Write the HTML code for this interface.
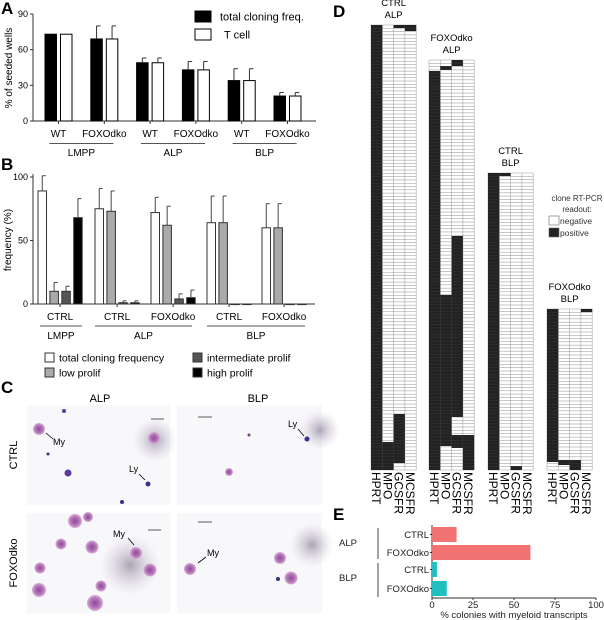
<!DOCTYPE html>
<html><head><meta charset="utf-8"><style>
body{margin:0;background:#fff}
svg{display:block;font-family:"Liberation Sans",Arial,sans-serif}
</style></head><body>
<svg id="fig" width="604" height="620" viewBox="0 0 604 620" xmlns="http://www.w3.org/2000/svg">
<defs>
<radialGradient id="smudge"><stop offset="0" stop-color="#8a7f95" stop-opacity="0.7"/><stop offset="1" stop-color="#c9c3d3" stop-opacity="0"/></radialGradient>
<radialGradient id="cellg"><stop offset="0" stop-color="#8e4a9a"/><stop offset="0.6" stop-color="#b274b6"/><stop offset="1" stop-color="#d9aed8"/></radialGradient>
</defs>
<g font-weight="bold" font-size="17" fill="#000">
<text x="1" y="14">A</text>
<text x="1" y="170">B</text>
<text x="1" y="393">C</text>
<text x="333" y="17">D</text>
<text x="333" y="520">E</text>
</g>
<g id="pa"></g>
<g id="pb"></g>
<g id="pc">
<text x="100" y="402" font-size="11" text-anchor="middle">ALP</text>
<text x="258" y="402" font-size="11" text-anchor="middle">BLP</text>
<text transform="translate(17,455) rotate(-90)" font-size="11" text-anchor="middle">CTRL</text>
<text transform="translate(17,563) rotate(-90)" font-size="11" text-anchor="middle">FOXOdko</text>
<g>
<rect x="27" y="405" width="143" height="100" fill="#f8f7fa"/>
<circle cx="155" cy="440" r="22" fill="url(#smudge)"/>
<circle cx="39" cy="429" r="6" fill="url(#cellg)"/><circle cx="154" cy="438" r="6" fill="url(#cellg)"/>
<circle cx="68" cy="473" r="3.5" fill="#5a3d9a"/><circle cx="148" cy="484" r="2.5" fill="#3a2f8a"/><circle cx="122" cy="502" r="2" fill="#3a2f8a"/><circle cx="48" cy="454" r="1.5" fill="#3a2f8a"/><circle cx="64" cy="411" r="2" fill="#5a3d9a"/>
<line x1="151" y1="419" x2="164" y2="419" stroke="#333" stroke-width="0.8"/>
<text x="53" y="445" font-size="9">My</text>
<line x1="53" y1="439" x2="46" y2="433" stroke="#000" stroke-width="0.8"/>
<text x="129" y="472" font-size="9">Ly</text>
<line x1="139" y1="474" x2="145" y2="480" stroke="#000" stroke-width="0.8"/>
</g>
<g>
<rect x="177" y="405" width="145" height="100" fill="#f8f7fa"/>
<circle cx="320" cy="430" r="20" fill="url(#smudge)"/>
<circle cx="229" cy="472" r="4" fill="url(#cellg)"/><circle cx="307" cy="439" r="2.5" fill="#3a2f8a"/><circle cx="249" cy="435" r="1.5" fill="#7a3d8a"/>
<line x1="198" y1="417" x2="212" y2="417" stroke="#333" stroke-width="0.8"/>
<text x="288" y="427" font-size="9">Ly</text>
<line x1="298" y1="429" x2="304" y2="436" stroke="#000" stroke-width="0.8"/>
</g>
<g>
<rect x="27" y="513" width="143" height="100" fill="#f8f7fa"/>
<circle cx="130" cy="565" r="30" fill="url(#smudge)"/>
<circle cx="75" cy="521" r="7" fill="url(#cellg)"/><circle cx="88" cy="517" r="5" fill="url(#cellg)"/><circle cx="61" cy="544" r="5.5" fill="url(#cellg)"/><circle cx="92" cy="547" r="6.5" fill="url(#cellg)"/><circle cx="136" cy="553" r="6" fill="url(#cellg)"/><circle cx="150" cy="570" r="6.5" fill="url(#cellg)"/><circle cx="40" cy="568" r="5.5" fill="url(#cellg)"/><circle cx="39" cy="590" r="7" fill="url(#cellg)"/><circle cx="101" cy="586" r="5.5" fill="url(#cellg)"/><circle cx="95" cy="603" r="8" fill="url(#cellg)"/>
<line x1="148" y1="530" x2="161" y2="530" stroke="#333" stroke-width="0.8"/>
<text x="113" y="537" font-size="9">My</text>
<line x1="128" y1="538" x2="134" y2="545" stroke="#000" stroke-width="0.8"/>
</g>
<g>
<rect x="177" y="513" width="145" height="100" fill="#f8f7fa"/>
<circle cx="312" cy="545" r="22" fill="url(#smudge)"/>
<circle cx="190" cy="569" r="6" fill="url(#cellg)"/><circle cx="280" cy="558" r="6" fill="url(#cellg)"/><circle cx="291" cy="578" r="6.5" fill="url(#cellg)"/><circle cx="278" cy="579" r="2" fill="#3a2f8a"/>
<line x1="198" y1="522" x2="212" y2="522" stroke="#333" stroke-width="0.8"/>
<text x="207" y="556" font-size="9">My</text>
<line x1="206" y1="557" x2="198" y2="563" stroke="#000" stroke-width="0.8"/>
</g>
</g>
<g id="pd"></g>
<g id="pe"></g>
</svg>
<script>
const NS="http://www.w3.org/2000/svg";
function mk(parent,tag,attrs,txt){const e=document.createElementNS(NS,tag);for(const k in attrs)e.setAttribute(k,attrs[k]);if(txt!==undefined)e.textContent=txt;parent.appendChild(e);return e;}

// ---------- Panel A data ----------
const aGroups=["LMPP","ALP","BLP"];
const aGenotypes=["WT","FOXOdko","WT","FOXOdko","WT","FOXOdko"];
const aTotal=[73,69,49,43,34,21];
const aTotalErr=[0,11,4,7,10,3];
const aTcell=[73,69,49,43,34,21];
const aTcellErr=[0,11,4,7,10,3];
const aTicks=[0,30,60,90];

// ---------- Panel B data ----------
const bConds=["CTRL","CTRL","FOXOdko","CTRL","FOXOdko"];
const bGroups=["LMPP","ALP","BLP"];
const bTotal=[89,75,72,64,60];
const bTotalErr=[12,16,12,21,19];
const bLow=[10,73,62,64,60];
const bLowErr=[7,16,15,21,19];
const bInter=[10,1,4,0,0];
const bInterErr=[4,1.5,4,0,0];
const bHigh=[68,1,5,0,0];
const bHighErr=[15,1.5,6,0,0];
const bTicks=[0,50,100];

// ---------- Panel E data ----------
const eCats=["CTRL","FOXOdko","CTRL","FOXOdko"];
const eVals=[15,60,3,9];
const eTicks=[0,25,50,75,100];

// ---------- Panel A ----------
(function(){
const g=document.getElementById('pa');
const x0=33,x1=316,yb=121,yt=14;
const ys=v=>yb-(v/90)*(yb-yt);
const xs=i=>45+i*45.8;
const bw=11.5;
mk(g,'line',{x1:x0,y1:yb,x2:x1,y2:yb,stroke:'#333','stroke-width':1});
mk(g,'line',{x1:x0,y1:yt,x2:x0,y2:yb,stroke:'#333','stroke-width':1});
aTicks.forEach(t=>{
 mk(g,'line',{x1:x0-3,y1:ys(t),x2:x0,y2:ys(t),stroke:'#333'});
 const tl=mk(g,'text',{x:x0-5,y:ys(t)+3,'font-size':9,'text-anchor':'end'},t);
 
 
});
const yl=mk(g,'text',{transform:'translate(12,68) rotate(-90)','font-size':10,'text-anchor':'middle'},'% of seeded wells');


aTotal.forEach((v,i)=>{
 const bx=xs(i);
 [[v,aTotalErr[i],'#000',bx],[aTcell[i],aTcellErr[i],'#fff',bx+15.5]].forEach((d,j)=>{
  const r=mk(g,'rect',{x:d[3],y:ys(d[0]),width:bw,height:yb-ys(d[0]),fill:d[2],stroke:'#000','stroke-width':1});
  
  
  if(d[1]>0){const cx=d[3]+bw/2;mk(g,'line',{x1:cx,y1:ys(d[0]),x2:cx,y2:ys(d[0]+d[1]),stroke:'#333'});mk(g,'line',{x1:cx,y1:ys(d[0]+d[1]),x2:cx+4,y2:ys(d[0]+d[1]),stroke:'#333'});}
 });
 const cx=bx+13.5;
 mk(g,'line',{x1:cx,y1:yb,x2:cx,y2:yb+3,stroke:'#333'});
 const tl=mk(g,'text',{x:cx,y:137,'font-size':10,'text-anchor':'middle'},aGenotypes[i]);
 
 
});
aGroups.forEach((n,k)=>{
 const c=(xs(2*k)+xs(2*k+1))/2+13.5;
 mk(g,'line',{x1:c-32,y1:143.5,x2:c+32,y2:143.5,stroke:'#555'});
 const t=mk(g,'text',{x:c,y:156,'font-size':10,'text-anchor':'middle'},n);
 
 
});
const L=[['#000','total cloning freq.',11],['#fff','T cell',29]];
L.forEach(l=>{
 const r=mk(g,'rect',{x:195,y:l[2],width:16,height:11,fill:l[0],stroke:'#000'});
 
 
 const t=mk(g,'text',{x:l[1]=='T cell'?224:220,y:l[2]+9.5,'font-size':11},l[1]);
 
 
});
})();

// ---------- Panel B ----------
(function(){
const g=document.getElementById('pb');
const x0=33,x1=315,yb=304,yt=177;
const ys=v=>yb-(v/100)*(yb-yt);
const starts=[38,95,151,207,262];
const step=11.9,bw=8.5;
mk(g,'line',{x1:x0,y1:yb,x2:x1,y2:yb,stroke:'#333'});
mk(g,'line',{x1:x0,y1:yt-3,x2:x0,y2:yb,stroke:'#333'});
bTicks.forEach(t=>{
 mk(g,'line',{x1:x0-3,y1:ys(t),x2:x0,y2:ys(t),stroke:'#333'});
 const tl=mk(g,'text',{x:x0-5,y:ys(t)+3,'font-size':9,'text-anchor':'end'},t);
 
 
});
const yl=mk(g,'text',{transform:'translate(11,240) rotate(-90)','font-size':10,'text-anchor':'middle'},'frequency (%)');


const series=[[bTotal,bTotalErr,'#fff'],[bLow,bLowErr,'#aaa'],[bInter,bInterErr,'#555'],[bHigh,bHighErr,'#000']];
bConds.forEach((c,i)=>{
 series.forEach((s,j)=>{
  const v=s[0][i],e=s[1][i],bx=starts[i]+j*step;
  const r=mk(g,'rect',{x:bx,y:ys(v),width:bw,height:Math.max(0.6,yb-ys(v)),fill:s[2],stroke:'#333','stroke-width':1});
  
  
  if(e>0){const cx=bx+bw/2;mk(g,'line',{x1:cx,y1:ys(v),x2:cx,y2:ys(v+e),stroke:'#444'});mk(g,'line',{x1:cx,y1:ys(v+e),x2:cx+3.5,y2:ys(v+e),stroke:'#444'});}
 });
 const cx=starts[i]+1.5*step+bw/2;
 mk(g,'line',{x1:cx,y1:yb,x2:cx,y2:yb+3,stroke:'#333'});
 const tl=mk(g,'text',{x:cx,y:320,'font-size':10,'text-anchor':'middle'},c);
 
 
});
const gl=[[40,82],[95,192],[207,305]];
bGroups.forEach((n,k)=>{
 mk(g,'line',{x1:gl[k][0],y1:326,x2:gl[k][1],y2:326,stroke:'#555'});
 const t=mk(g,'text',{x:(gl[k][0]+gl[k][1])/2,y:339,'font-size':10,'text-anchor':'middle'},n);
 
 
});
const L=[['#fff','total cloning frequency',45,353],['#aaa','low prolif',45,368],['#555','intermediate prolif',193,353],['#000','high prolif',193,368]];
L.forEach(l=>{
 const r=mk(g,'rect',{x:l[2],y:l[3],width:9,height:9,fill:l[0],stroke:'#333'});
 
 
 const t=mk(g,'text',{x:l[2]+14,y:l[3]+8.5,'font-size':10.5},l[1]);
 
 
});
})();

// ---------- Panel D ----------
(function(){
const g=document.getElementById('pd');
const cols=["HPRT","MPO","GCSFR","MCSFR"];
const grids=[
 {x:371,top:25,bot:470,t1:'CTRL',t2:'ALP',ty:6,pos:[[[25,470]],[[442,470]],[[25,28],[414,463]],[[25,31]]]},
 {x:429,top:60,bot:470,t1:'FOXOdko',t2:'ALP',ty:41,pos:[[[71,470]],[[66,70],[295,446]],[[60,66],[236,417],[435,448]],[[435,470]]]},
 {x:488,top:173,bot:470,t1:'CTRL',t2:'BLP',ty:154,pos:[[[173,470]],[[173,176]],[[466,470]],[]]},
 {x:547,top:309,bot:470,t1:'FOXOdko',t2:'BLP',ty:290,pos:[[[309,462]],[[460,465]],[[460,470]],[[309,312]]]}
];
const cw=11.3,rh=3.3;
grids.forEach((G,gi)=>{
 const gg=mk(g,'g',{});
 
 
 mk(gg,'rect',{x:G.x,y:G.top,width:cw*4,height:G.bot-G.top,fill:'#fff',stroke:'#aaa','stroke-width':0.6});
 const n=Math.round((G.bot-G.top)/rh);
 for(let r=1;r<n;r++){const y=G.top+r*(G.bot-G.top)/n;mk(gg,'line',{x1:G.x,y1:y,x2:G.x+cw*4,y2:y,stroke:'#c8c8c8','stroke-width':0.5});}
 for(let c=1;c<4;c++)mk(gg,'line',{x1:G.x+c*cw,y1:G.top,x2:G.x+c*cw,y2:G.bot,stroke:'#aaa','stroke-width':0.6});
 G.pos.forEach((rs,c)=>rs.forEach(p=>{
  const rr=mk(gg,'rect',{x:G.x+c*cw,y:p[0],width:cw,height:p[1]-p[0],fill:'#222'});
  
  
 }));
 for(let r=1;r<n;r++){const y=G.top+r*(G.bot-G.top)/n;mk(gg,'line',{x1:G.x,y1:y,x2:G.x+cw*4,y2:y,stroke:'#555','stroke-width':0.35,'stroke-opacity':0.6});}
 const cx=G.x+cw*2;
 const t1=mk(gg,'text',{x:cx,y:G.ty,'font-size':9.5,'text-anchor':'middle'},G.t1);
 
 
 const t2=mk(gg,'text',{x:cx,y:G.ty+12,'font-size':9.5,'text-anchor':'middle'},G.t2);
 
 
 cols.forEach((c,ci)=>{
  const t=mk(gg,'text',{transform:`translate(${G.x+ci*cw+1},472) rotate(90)`,'font-size':12},c);
  
  
 });
});
const lt=[['clone RT-PCR',201],['readout:',212]];
lt.forEach(l=>{const t=mk(g,'text',{x:577,y:l[1],'font-size':8,'text-anchor':'middle',fill:'#333'},l[0]);
 
 });
[['#fff','negative',216],['#222','positive',228]].forEach(l=>{
 const r=mk(g,'rect',{x:549,y:l[2],width:10,height:9,fill:l[0],stroke:'#666','stroke-width':0.6});
 
 
 const t=mk(g,'text',{x:560,y:l[2]+8,'font-size':8.5,fill:'#333'},l[1]);
 
 
});
})();

// ---------- Panel E ----------
(function(){
const g=document.getElementById('pe');
const x0=432,x1=596,yt=525,yb=598;
const xs=v=>x0+(v/100)*(x1-x0);
const bandTop=[527,545,562,581],bh=15;
const colors=['#f07272','#f07272','#22bfc0','#22bfc0'];
mk(g,'line',{x1:x0,y1:yb,x2:x1,y2:yb,stroke:'#333'});
mk(g,'line',{x1:x0,y1:yt,x2:x0,y2:yb,stroke:'#333'});
eVals.forEach((v,i)=>{
 const r=mk(g,'rect',{x:x0,y:bandTop[i],width:xs(v)-x0,height:bh,fill:colors[i]});
 
 
 mk(g,'line',{x1:x0-2,y1:bandTop[i]+bh/2,x2:x0,y2:bandTop[i]+bh/2,stroke:'#333'});
 const t=mk(g,'text',{x:x0-3,y:bandTop[i]+bh/2+3.5,'font-size':9.5,'text-anchor':'end',fill:'#222'},eCats[i]);
 
 
});
eTicks.forEach(t=>{
 mk(g,'line',{x1:xs(t),y1:yb,x2:xs(t),y2:yb+2,stroke:'#333'});
 const tl=mk(g,'text',{x:xs(t),y:608,'font-size':9.5,'text-anchor':'middle',fill:'#222'},t);
 
 
});
const xt=mk(g,'text',{x:514,y:618,'font-size':9.5,'text-anchor':'middle',fill:'#222'},'% colonies with myeloid transcripts');


[['ALP',528,559,546],['BLP',563,597,581]].forEach(l=>{
 mk(g,'line',{x1:378,y1:l[1],x2:378,y2:l[2],stroke:'#444'});
 const t=mk(g,'text',{x:348,y:l[3],'font-size':9.5,'text-anchor':'middle',fill:'#222'},l[0]);
 
 
});
})();
</script>
</body></html>
